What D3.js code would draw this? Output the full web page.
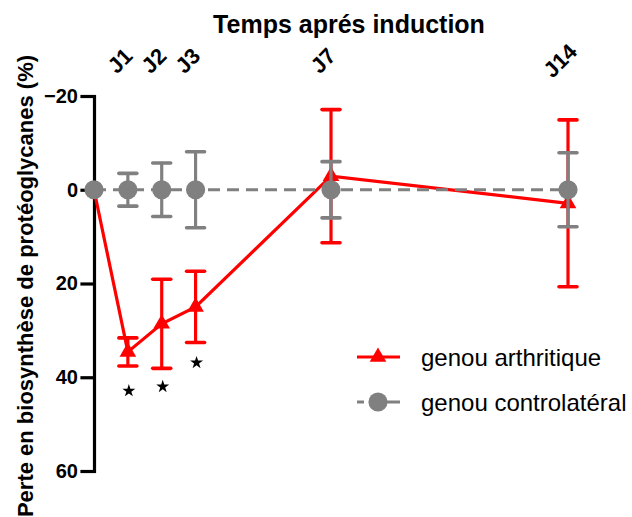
<!DOCTYPE html>
<html><head><meta charset="utf-8">
<script src="https://cdn.jsdelivr.net/npm/d3@7"></script>
<style>body{margin:0;background:#fff}svg{display:block}text{font-family:"Liberation Sans",Arial,sans-serif}</style>
</head><body>
<svg id="c" width="632" height="517"></svg>
<script>
const days = [0, 1, 2, 3, 7, 14];
const tickDays = [1, 2, 3, 7, 14];
const tickLabels = ["J1", "J2", "J3", "J7", "J14"];
const yTicks = [-20, 0, 20, 40, 60];
const arthMean = [0, 34.6, 28.6, 25.0, -2.9, 2.9];
const arthErr  = [0, 3.0, 9.5, 7.6, 14.2, 17.8];
const contraMean = [0, 0, 0, 0, 0, 0];
const contraErr  = [0, 3.5, 5.7, 8.1, 6.0, 7.9];
const starDays = [1, 2, 3];
const starVals = [42.9, 42.0, 36.9];
const seriesNames = ["genou arthritique", "genou controlatéral"];

const svg = d3.select("#c");
const x = d3.scaleLinear().domain([0, 14]).range([94, 568]);
const y = d3.scaleLinear().domain([-20, 60]).range([96, 471]);
const RED = "#ff0000", GRAY = "#808080";

// Y axis
const ya = svg.append("g").attr("transform", `translate(${x(0)},0)`)
  .call(d3.axisLeft(y).tickValues(yTicks).tickSize(12).tickSizeOuter(0).tickPadding(4));
ya.select(".domain").attr("stroke", "#000").attr("stroke-width", 3.2).attr("stroke-linecap","square");
ya.selectAll(".tick line").attr("stroke", "#000").attr("stroke-width", 3.2).attr("stroke-linecap","square");
ya.selectAll(".tick text").attr("font-size", 20).attr("font-weight", "bold").attr("fill", "#000")
  .attr("font-family", "Liberation Sans, Arial, sans-serif");

// X axis (top) labels only
const xa = svg.append("g").attr("transform", "translate(0,72)")
  .call(d3.axisTop(x).tickValues(tickDays).tickFormat((d, i) => tickLabels[i]).tickSize(0));
xa.select(".domain").remove();
xa.selectAll(".tick text").attr("font-size", 22).attr("font-weight", "bold").attr("fill", "#000")
  .attr("font-family", "Liberation Sans, Arial, sans-serif")
  .attr("text-anchor", "middle").attr("dy", null).attr("y", 0)
  .attr("transform", "translate(-3,-6) rotate(-45)");

// Titles
svg.append("text").attr("x", 349).attr("y", 33).attr("text-anchor", "middle")
  .attr("font-size", 25).attr("font-weight", "bold").text("Temps aprés induction");
svg.append("text").attr("transform", "translate(33,286) rotate(-90)").attr("text-anchor", "middle")
  .attr("font-size", 22).attr("font-weight", "bold").text("Perte en biosynthèse de protéoglycanes (%)");

function drawSeries(mean, err, color, dashed, symbol) {
  const g = svg.append("g");
  const line = d3.line().x((d, i) => x(days[i])).y(d => y(d));
  g.append("path").datum(mean).attr("d", line).attr("fill", "none").attr("stroke", color)
    .attr("stroke-width", 3.2).attr("stroke-dasharray", dashed ? "12,7" : null);
  const eb = g.selectAll(".eb").data(days.map((d, i) => ({d, m: mean[i], e: err[i]})).filter(o => o.e > 0))
    .enter().append("g");
  eb.append("line").attr("x1", o => x(o.d)).attr("x2", o => x(o.d))
    .attr("y1", o => y(o.m - o.e)).attr("y2", o => y(o.m + o.e)).attr("stroke", color).attr("stroke-width", 3.2);
  [-1, 1].forEach(s => {
    eb.append("line").attr("x1", o => x(o.d) - 9).attr("x2", o => x(o.d) + 9)
      .attr("y1", o => y(o.m + s * o.e)).attr("y2", o => y(o.m + s * o.e))
      .attr("stroke", color).attr("stroke-width", 3.6).attr("stroke-linecap", "round");
  });
  g.selectAll(".pt").data(mean).enter().append("path")
    .attr("transform", (d, i) => `translate(${x(days[i])},${y(d)})`)
    .attr("d", symbol).attr("fill", color);
}
const triSym = d3.symbol(d3.symbolTriangle, 120)();
const circSym = d3.symbol(d3.symbolCircle, Math.PI * 9.6 * 9.6)();
drawSeries(arthMean, arthErr, RED, false, triSym);
drawSeries(contraMean, contraErr, GRAY, true, circSym);

// Significance stars
svg.selectAll(".star").data(starDays).enter().append("path")
  .attr("transform", (d, i) => `translate(${x(d) + 1},${y(starVals[i])})`)
  .attr("d", d3.symbol(d3.symbolStar, 52)()).attr("fill", "#000");

// Legend
const lg = svg.append("g");
const legY = [357, 402];
const legCol = [RED, GRAY];
const legSym = [triSym, circSym];
seriesNames.forEach((name, i) => {
  lg.append("line").attr("x1", 357).attr("x2", 400).attr("y1", legY[i]).attr("y2", legY[i])
    .attr("stroke", legCol[i]).attr("stroke-width", 3.2).attr("stroke-dasharray", i ? "7,7,30,7" : null);
  lg.append("path").attr("transform", `translate(378,${legY[i]})`).attr("d", legSym[i]).attr("fill", legCol[i]);
  lg.append("text").attr("x", 421).attr("y", legY[i] + 9).attr("font-size", 24).attr("fill", "#000").text(name);
});
</script>
</body></html>
